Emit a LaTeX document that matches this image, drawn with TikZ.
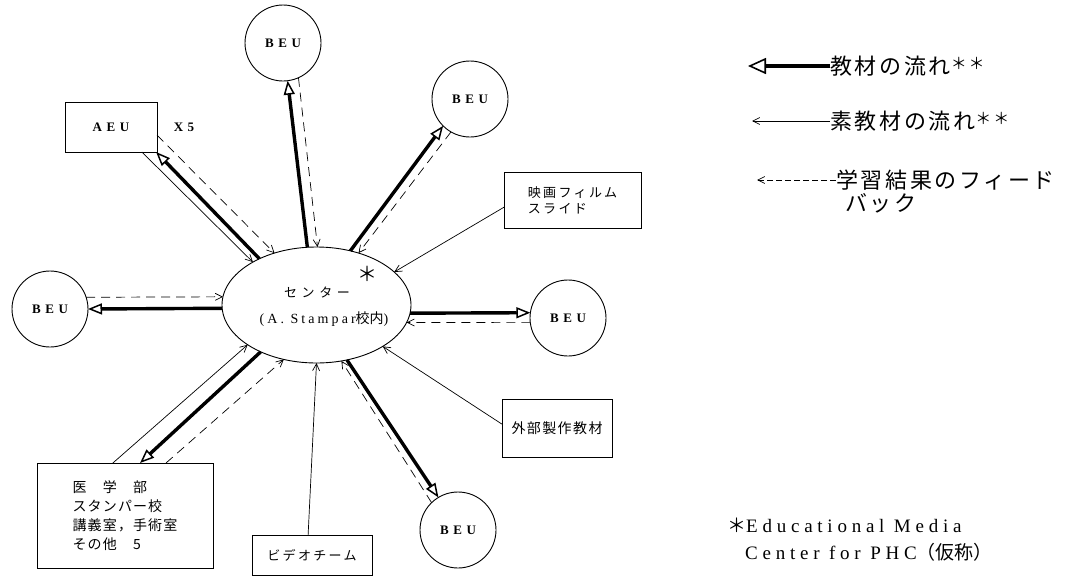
\documentclass[tikz,border=0pt]{standalone}
\usepackage{fontspec}
\setmainfont{Liberation Serif}
\newfontfamily\jp{Noto Sans CJK JP}
\usetikzlibrary{shapes.geometric,arrows.meta}

\tikzset{
  unit/.style={circle, draw, line width=0.9pt, minimum size=76pt, inner sep=0pt, outer sep=0pt,
    font=\fontsize{13}{13}\selectfont\bfseries\addfontfeatures{LetterSpace=35}},
  boxnode/.style={draw, line width=0.9pt, rectangle, inner sep=0pt, outer sep=0pt},
  flow/.style={line width=3.4pt, -{Triangle[open, length=14pt, width=11pt, line width=1.5pt]}},
  rawflow/.style={line width=0.7pt, -{Straight Barb[length=7pt, width=7pt]}},
  feedback/.style={rawflow, dash pattern=on 9pt off 6pt},
  jptext/.style={font=\jp\fontsize{13}{16}\selectfont\addfontfeatures{LetterSpace=18}},
  legend/.style={anchor=west, inner sep=0pt, font=\jp\fontsize{22}{22}\selectfont\addfontfeatures{LetterSpace=12}},
  note/.style={anchor=west, inner sep=0pt, font=\fontsize{19}{19}\selectfont\addfontfeatures{LetterSpace=25}}
}
\newcommand{\twostars}{\raisebox{5pt}{\fontsize{16}{16}\selectfont ＊＊}}

\begin{document}
\begin{tikzpicture}[x=1pt, y=-1pt]
\useasboundingbox (0,0) rectangle (1074,576);

% central media centre
\node[ellipse, draw, line width=0.9pt, minimum width=189pt, minimum height=116pt,
      inner sep=0pt, outer sep=0pt] (C) at (316.5,305) {};
\node[font=\jp\fontsize{13}{13}\selectfont\addfontfeatures{LetterSpace=35}] (Ct) at (317,292) {センター};
\node[font=\fontsize{14}{14}\selectfont\addfontfeatures{LetterSpace=22}] (Cs) at (324,319)
  {(A. Stampar{\jp\addfontfeatures{LetterSpace=0} 校内})};
\node[font=\jp\fontsize{20}{20}\selectfont] (Cst) at (367,274) {＊};

% basic education units
\node[unit] (B1) at (283,43) {BEU};
\node[unit] (B2) at (470,99) {BEU};
\node[unit] (B3) at (50,309) {BEU};
\node[unit] (B4) at (568,318) {BEU};
\node[unit] (B5) at (458,530) {BEU};

% advanced unit
\node[boxnode, minimum width=92pt, minimum height=50pt,
      font=\fontsize{13}{13}\selectfont\bfseries\addfontfeatures{LetterSpace=35}] (A) at (111,127) {AEU};
\node[font=\fontsize{13}{13}\selectfont\bfseries\addfontfeatures{LetterSpace=35}] (Ax) at (184,127) {X5};

% sources of material
\node[boxnode, minimum width=176pt, minimum height=105pt, align=left,
      font=\jp\fontsize{14}{19}\selectfont\addfontfeatures{LetterSpace=8}] (M) at (125,515.5)
  {医　学　部\\スタンパー校\\講義室，手術室\\その他　5};
\node[boxnode, minimum width=137pt, minimum height=56pt, align=left, jptext] (F) at (572.5,200)
  {映画フィルム\\スライド};
\node[boxnode, minimum width=110pt, minimum height=58pt, jptext,
      font=\jp\fontsize{14}{14}\selectfont\addfontfeatures{LetterSpace=10}] (E) at (557,428) {外部製作教材};
\node[boxnode, minimum width=120pt, minimum height=40pt, jptext] (V) at (312,555) {ビデオチーム};

% AEU links
\draw[rawflow]  (A.321) -- (C.146);
\draw[flow]     (C.141) -- (A.331);
\draw[feedback] (A.350) -- (C.129);

% BEU links
\draw[flow]     (C.99) -- (B1.277);
\draw[feedback] (B1.294) -- (C.89.5);
\draw[flow]     (C.58) -- (B2.225);
\draw[feedback] (B2.240) -- (C.51);
\draw[feedback] (B3.18) -- (C.175);
\draw[flow]     (C.182.4) -- (B3.0);
\draw[flow]     (C.355.7) -- (B4.172.5);
\draw[feedback] (B4.187.5) -- (C.349.3);
\draw[flow]     (C.299) -- (B5.121);
\draw[feedback] (B5.134) -- (C.294);

% medical faculty links
\draw[rawflow]  (M.103) -- (C.210);
\draw[flow]     (C.220) -- (M.74);
\draw[feedback] (M.52) -- (C.239);

% raw material inputs
\draw[rawflow] (F.186) -- (C.23.5);
\draw[rawflow] (E.176) -- (C.328);
\draw[rawflow] (V.101) -- (C.270);

% legend
\node[legend] (L1) at (830,66) {教材の流れ\twostars};
\coordinate (L1a) at (748,66);
\draw[flow, line width=4pt, -{Triangle[open, length=18pt, width=16pt, line width=1.6pt]}] (L1.west) -- (L1a);
\node[legend] (L2) at (830,121) {素教材の流れ\twostars};
\coordinate (L2a) at (752,121);
\draw[rawflow] (L2.west) -- (L2a);
\node[legend] (L3) at (836,180) {学習結果のフィード};
\coordinate (L3a) at (757,180);
\draw[feedback, dash pattern=on 6pt off 3pt] (L3.west) -- (L3a);
\node[legend] (L4) at (845,203) {バック};

% footnote
\node[note] (N1) at (727,525) {{\jp\addfontfeatures{LetterSpace=0}＊}Educational Media};
\node[note] (N2) at (745,552) {Center for PHC{\jp\addfontfeatures{LetterSpace=0}（仮称）}};
\end{tikzpicture}
\end{document}
